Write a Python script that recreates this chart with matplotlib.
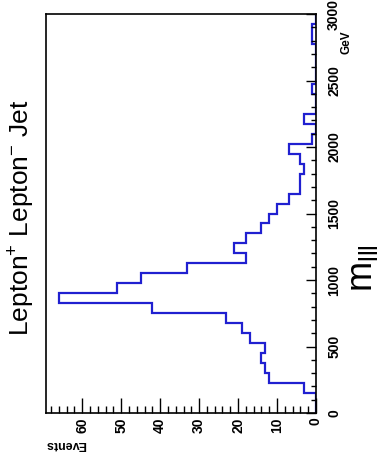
import numpy as np
import matplotlib
matplotlib.use("Agg")
import matplotlib.pyplot as plt
from matplotlib.ticker import MultipleLocator

plt.rcParams['font.family'] = ['Liberation Sans', 'DejaVu Sans']
plt.rcParams['mathtext.fontset'] = 'custom'
plt.rcParams['mathtext.rm'] = 'Liberation Sans'
plt.rcParams['mathtext.default'] = 'regular'

# 40 bins of 75 GeV from 0 to 3000
bin_edges = np.arange(0, 3001, 75)
counts = [0, 0, 3, 12, 13, 14, 13, 17, 19, 23,
          42, 66, 51, 45, 33, 18, 21, 18, 14, 12,
          10, 7, 4, 4, 3, 4, 7, 1, 0, 3,
          0, 0, 1, 0, 0, 0, 0, 1, 1, 0]
mass_ticks = [0, 500, 1000, 1500, 2000, 2500, 3000]
event_ticks = [0, 10, 20, 30, 40, 50, 60]

W, H = 381, 458
fig = plt.figure(figsize=(W / 100, H / 100), dpi=100)
ax = fig.add_axes([46 / W, 1 - 413 / H, (316 - 46) / W, (413 - 14) / H])

# the picture is the ROOT canvas turned a quarter turn: mass runs up, events run left
ax.stairs(counts, bin_edges, orientation='horizontal', color='#2020d0', lw=1.6, baseline=0)
ax.set_ylim(0, 3000)
ax.set_xlim(1.05 * max(counts), 0)

ax.yaxis.tick_right()
ax.set_yticks(mass_ticks)
ax.yaxis.set_minor_locator(MultipleLocator(100))
ax.set_yticklabels([str(t) for t in mass_ticks], rotation=90, va='center',
                   fontsize=10, fontweight='bold')
ax.tick_params(axis='y', which='major', direction='in', length=7, width=1, pad=8)
ax.tick_params(axis='y', which='minor', direction='in', length=3.5, width=1)

ax.set_xticks(event_ticks)
ax.xaxis.set_minor_locator(MultipleLocator(2))
ax.set_xticklabels([str(t) for t in event_ticks], rotation=90, ha='center',
                   fontsize=10, fontweight='bold')
ax.tick_params(axis='x', which='major', direction='in', length=11, width=1, pad=3)
ax.tick_params(axis='x', which='minor', direction='in', length=5, width=1)

for s in ax.spines.values():
    s.set_linewidth(1.2)

fig.text(22 / W, 1 - 218 / H, r'Lepton$^{+}$ Lepton$^{-}$ Jet', rotation=90,
         ha='center', va='center', fontsize=19)
fig.text(363 / W, 1 - 268 / H, r'$m_{lll}$', rotation=90,
         ha='center', va='center', fontsize=26)
fig.text(346 / W, 1 - 42 / H, 'GeV', rotation=90,
         ha='center', va='center', fontsize=8.5, fontweight='bold')
fig.text(66 / W, 1 - 444 / H, 'Events', rotation=180,
         ha='center', va='center', fontsize=9, fontweight='bold')

fig.savefig('out.png', dpi=100)
